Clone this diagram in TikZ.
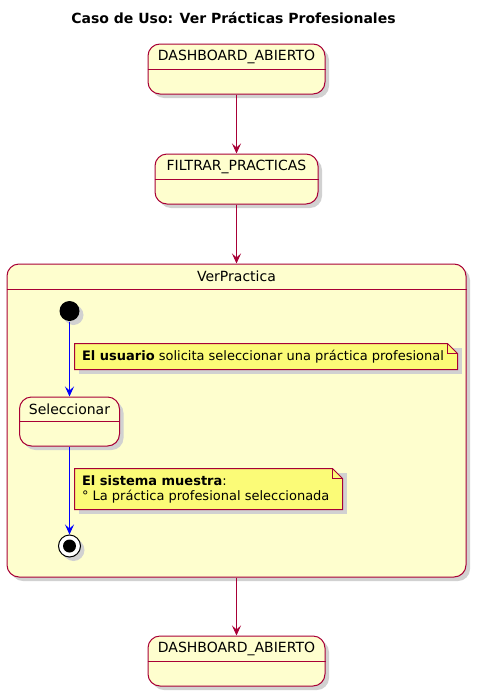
\documentclass[tikz,border=0pt]{standalone}
\usepackage{fontspec}
\setmainfont{DejaVu Sans}
\usetikzlibrary{shadows,arrows.meta}
\definecolor{umlred}{HTML}{A80036}
\definecolor{umlfill}{HTML}{FEFECE}
\definecolor{notefill}{HTML}{FBFB77}
\begin{document}
\begin{tikzpicture}[x=1pt,y=-1pt,line width=1pt,
    sh/.style={drop shadow={shadow xshift=4pt,shadow yshift=-4pt,fill=black!18,opacity=1}},
    statebox/.style={draw=umlred,fill=umlfill,rounded corners=12pt,inner sep=0pt,sh},
    stname/.style={font=\fontsize{14}{16}\selectfont,inner sep=0pt},
    notetxt/.style={font=\fontsize{13}{15}\selectfont,inner sep=0pt,align=left,anchor=west},
    trans/.style={draw=umlred,-{Stealth[length=10pt,width=9pt,inset=4pt]}},
    inner/.style={draw=blue,-{Stealth[length=10pt,width=9pt,inset=4pt]}}]
  \useasboundingbox (0,0) rectangle (479,699);
  \node[font=\bfseries\fontsize{14}{16}\selectfont] (title) at (233.5,18) {Caso de Uso: Ver Prácticas Profesionales};
  % top level states
  \node[statebox,minimum width=177pt,minimum height=50pt] (dash1) at (236.5,69) {};
  \node[statebox,minimum width=163pt,minimum height=50pt] (filt) at (236.5,179) {};
  \node[statebox,minimum width=459pt,minimum height=313pt] (comp) at (236.5,420.5) {};
  \node[statebox,minimum width=177pt,minimum height=50pt] (dash2) at (236.5,661) {};
  \foreach \n/\t in {dash1/DASHBOARD\_ABIERTO,filt/FILTRAR\_PRACTICAS,comp/VerPractica,dash2/DASHBOARD\_ABIERTO}{
    \node[stname] at ([yshift=-13pt]\n.north) {\t};
    \draw[umlred] ([yshift=-26pt]\n.north west) -- ([yshift=-26pt]\n.north east);
  }
  % inside VerPractica
  \node[circle,fill=black,minimum size=20pt,inner sep=0pt,sh] (ini) at (69.5,311) {};
  \node[statebox,minimum width=100pt,minimum height=49pt] (sel) at (69.5,421.5) {};
  \node[stname] at ([yshift=-13pt]sel.north) {Seleccionar};
  \draw[umlred] ([yshift=-25pt]sel.north west) -- ([yshift=-25pt]sel.north east);
  \node[circle,draw=black,fill=white,minimum size=22pt,inner sep=0pt,sh] (fin) at (69.5,546) {};
  \node[circle,fill=black,minimum size=13pt,inner sep=0pt] (finin) at (fin) {};
  % notes
  \node[minimum width=382pt,minimum height=25pt,inner sep=0pt] (note1) at (266,356.5) {};
  \node[minimum width=267pt,minimum height=40pt,inner sep=0pt] (note2) at (208.5,489) {};
  \foreach \n in {note1,note2}{
    \fill[black!18] ([shift={(4pt,-4pt)}]\n.south west) -- ([shift={(4pt,-4pt)}]\n.north west)
      -- ([shift={(4pt,-4pt)}]\n.north east) -- ([shift={(4pt,-4pt)}]\n.south east) -- cycle;
    \draw[umlred,fill=notefill] (\n.south west) -- (\n.north west) -- ([xshift=-10pt]\n.north east)
      -- ([yshift=-10pt]\n.north east) -- (\n.south east) -- cycle;
    \draw[umlred] ([xshift=-10pt]\n.north east) |- ([yshift=-10pt]\n.north east);
  }
  \node[notetxt] (note1txt) at ([xshift=7pt]note1.west) {\textbf{El usuario} solicita seleccionar una práctica profesional};
  \node[notetxt] (note2txt) at ([xshift=7pt]note2.west) {\textbf{El sistema muestra}:\\° La práctica profesional seleccionada};
  % transitions
  \draw[trans] (dash1) -- (filt);
  \draw[trans] (filt) -- (comp);
  \draw[trans] (comp) -- (dash2);
  \draw[inner] (ini) -- (sel);
  \draw[inner] (sel) -- (fin);
\end{tikzpicture}
\end{document}
